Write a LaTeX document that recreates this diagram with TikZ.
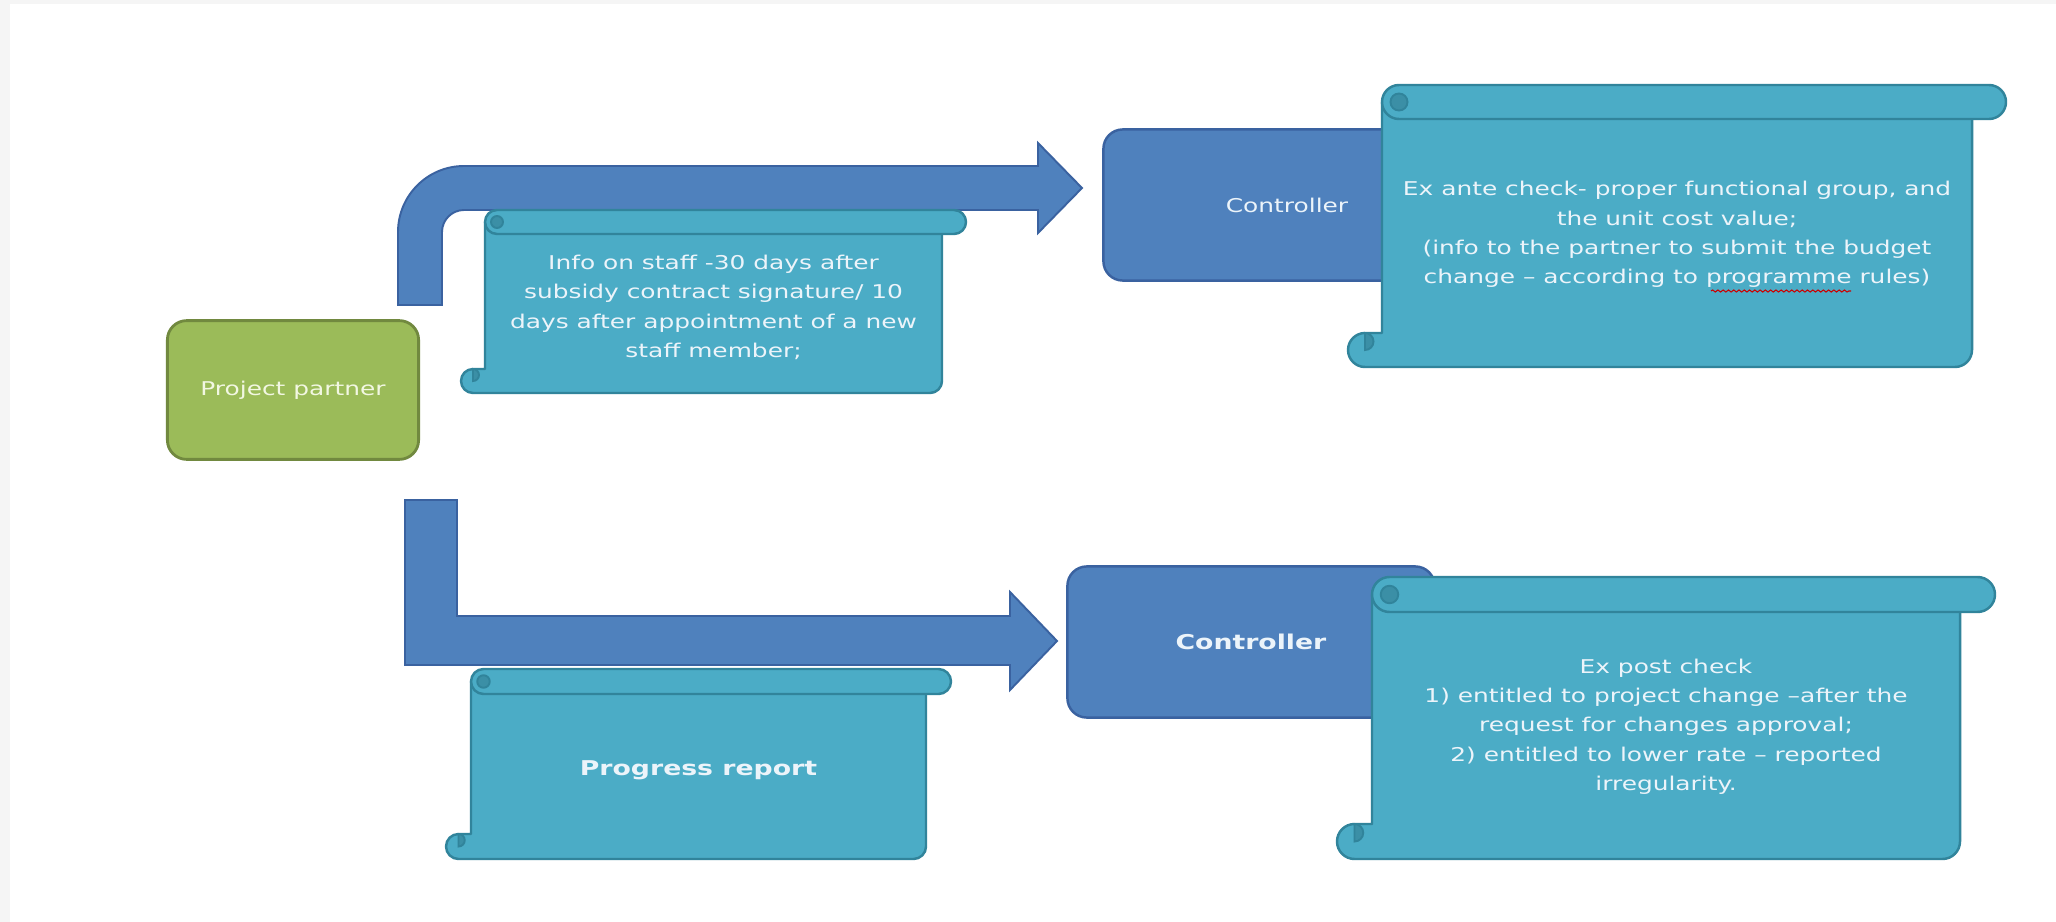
\documentclass[tikz,border=0pt]{standalone}
\usepackage{fontspec}
\setmainfont[FakeStretch=1.31]{DejaVu Sans}
\usepackage{tikz}
\usetikzlibrary{decorations.pathmorphing}

\definecolor{pagegray}{HTML}{F5F5F5}
\definecolor{ppgreen}{HTML}{9BBB59}
\definecolor{ppline}{HTML}{71893F}
\definecolor{pptext}{HTML}{F2F7E2}
\definecolor{ctrlblue}{HTML}{4F81BD}
\definecolor{ctrlline}{HTML}{3A62A0}
\definecolor{rollfill}{HTML}{4BACC6}
\definecolor{rollline}{HTML}{31849B}
\definecolor{rolldark}{HTML}{3B8FA6}
\definecolor{lighttext}{HTML}{ECF4FA}

\begin{document}
\begin{tikzpicture}[x=0.02cm,y=0.02cm,
        txt/.style={font=\fontsize{10.8}{16.7}\selectfont,text=lighttext,align=center,inner sep=0pt},
        boldtxt/.style={txt,font=\fontsize{11.6}{16.7}\selectfont\bfseries},
        partner/.style={draw=ppline,fill=ppgreen,line width=1.6pt,rounded corners=11pt,
            minimum width=143pt,minimum height=79pt,txt,text=pptext},
        ctrl/.style={draw=ctrlline,fill=ctrlblue,line width=1.4pt,rounded corners=11pt,
            minimum width=209pt,minimum height=86pt},
        fatarrow/.style={draw=ctrlline,fill=ctrlblue,line width=1.1pt,line join=miter},
        roll/.style={draw=rollline,fill=rollfill,line width=1.4pt,line join=round},
        curl/.style={draw=rollline,fill=rolldark,line width=1.1pt}]
            \newcommand\rollbox[6]{% name, left, top, right, bottom, roll size
                \filldraw[roll] (#2+#6,-#3-#6/2) -- (#2+#6,-#5+#6) -- (#2+#6/2,-#5+#6) arc (90:270:#6/2)
                    -- (#4-#6-#6/2,-#5) arc (270:360:#6/2) -- (#4-#6,-#3-#6/2) -- cycle;
                \filldraw[curl] (#2+#6/2,-#5+#6) arc (90:-90:#6/4) -- cycle;
                \filldraw[roll] (#2+#6+#6/2,-#3) -- (#4-#6/2,-#3) arc (90:-90:#6/2)
                    -- (#2+#6+#6/2,-#3-#6) arc (270:90:#6/2) -- cycle;
                \filldraw[curl] (#2+#6+#6/2,-#3-#6/2) circle (#6/4);
                \coordinate (S-#1) at ({(#2+#4)/2},{-(#3+#5)/2-#6/4});
            }
            % page
            \fill[pagegray] (0,0) rectangle (2056,-922);
            \fill[white] (10,-4) rectangle (2056,-922);
            \useasboundingbox (0,0) rectangle (2056,-922);
            % the two block arrows
            \filldraw[fatarrow] (398,-305) -- (398,-232) arc (180:90:66) -- (1038,-166) -- (1038,-143)
                -- (1082,-188) -- (1038,-233) -- (1038,-210) -- (464,-210) arc (90:180:22) -- (442,-305) -- cycle;
            \filldraw[fatarrow] (405,-500) -- (457,-500) -- (457,-616) -- (1010,-616) -- (1010,-592)
                -- (1057,-641) -- (1010,-690) -- (1010,-665) -- (405,-665) -- cycle;
            \node[partner] (partner) at (293,-390) {Project partner};
            \node[ctrl] (ctrlA) at (1287,-205) {};
            \node[txt] (ctrlA-t) at (ctrlA) {Controller};
            \node[ctrl] (ctrlB) at (1251,-642) {};
            \node[boldtxt] (ctrlB-t) at (ctrlB) {Controller};
            \foreach \n/\l/\t/\r/\b/\c in {info/461/210/966/393/24,report/446/669/951/859/25,
                    ante/1348/85/2006/367/34,post/1337/577/1995/859/35}{
                \rollbox{\n}{\l}{\t}{\r}{\b}{\c}
            }
            \node[txt] (info) at (S-info) {Info on staff -30 days after\\subsidy contract signature/ 10\\
                days after appointment of a new\\staff member;};
            \node[boldtxt] (report) at (S-report) {Progress report};
            \node[txt] (ante) at (S-ante) {Ex ante check- proper functional group, and\\the unit cost value;\\
                (info to the partner to submit the budget\\change – according to programme rules)};
            \node[txt] (post) at (S-post) {Ex post check\\1) entitled to project change –after the\\
                request for changes approval;\\2) entitled to lower rate – reported\\irregularity.};
            % spelling mark under "programme"
            \coordinate (wave-a) at (1711,-291);
            \coordinate (wave-b) at (1851,-291);
            \draw[red!80!black,line width=0.6pt,decorate,decoration={snake,amplitude=0.6pt,segment length=3pt}] (wave-a) -- (wave-b);
        \end{tikzpicture}
\end{document}
